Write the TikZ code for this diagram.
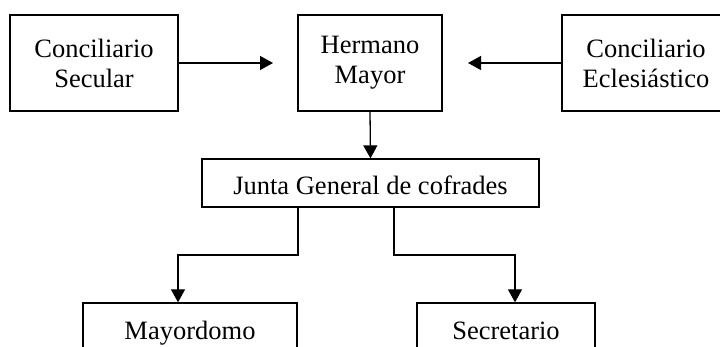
\documentclass[tikz,border=0pt]{standalone}
\usepackage{fontspec}
\setmainfont{Liberation Serif}
\usetikzlibrary{arrows.meta}
\begin{document}
\begin{tikzpicture}[x=1pt,y=-1pt,
  box/.style={draw,line width=1.3pt,inner sep=0pt,font=\fontsize{26.5pt}{30pt}\selectfont},
  arr/.style={line width=1.3pt,-{Triangle[length=13pt,width=14pt]}}]
\useasboundingbox (0,0) rectangle (720,347);
\clip (0,0) rectangle (720,347);
\node[box,align=center,minimum width=168pt,minimum height=96pt] (sec) at (94,63) {Conciliario\\Secular};
\node[box,align=center,minimum width=144pt,minimum height=96pt] (her) at (370,63) {Hermano\\Mayor};
\node[box,align=center,minimum width=168pt,minimum height=96pt] (ecl) at (646,63) {Conciliario\\Eclesiástico};
\node[box,minimum width=337pt,minimum height=48pt,text height=24pt,text depth=0pt] (jun) at (370.5,183) {Junta General de cofrades};
\node[box,minimum width=214pt,minimum height=60pt,text height=18pt,text depth=6pt] (may) at (190,333) {Mayordomo};
\node[box,minimum width=178pt,minimum height=60pt,text height=18pt,text depth=6pt] (scr) at (506,333) {Secretario};
\coordinate (tipL) at (273,63);
\coordinate (tipR) at (468,63);
\coordinate (xL) at (298,0);
\coordinate (xR) at (394,0);
\coordinate (yB) at (0,255);
\coordinate (xM) at (178,0);
\coordinate (xS) at (515,0);
\draw[arr] (sec.east) -- (tipL);
\draw[arr] (ecl.west) -- (tipR);
\draw[arr] (her.south) -- (jun.north);
\draw[arr] (jun.south -| xL) -- (xL |- yB) -| (may.north -| xM);
\draw[arr] (jun.south -| xR) -- (xR |- yB) -| (scr.north -| xS);
\end{tikzpicture}
\end{document}
